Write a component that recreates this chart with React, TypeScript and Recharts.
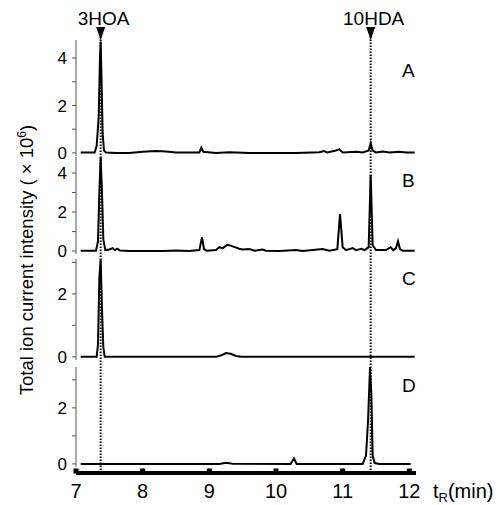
import React from 'react';
import { LineChart, Line, XAxis, YAxis, ReferenceLine } from 'recharts';

// ---------- data ----------
const X_MIN = 7;
const X_MAX = 12.1;
const xTicks = [7, 8, 9, 10, 11, 12];

const markerNames = ['3HOA', '10HDA'];
const markerTimes = [7.37, 11.42];

const panelLabels = ['A', 'B', 'C', 'D'];

const timeA = [7.07, 7.28, 7.31, 7.34, 7.36, 7.37, 7.38, 7.4, 7.42, 7.45, 7.6, 7.8, 8.0, 8.2, 8.35, 8.5, 8.85, 8.88, 8.91, 9.1, 9.3, 9.6, 10.0, 10.3, 10.65, 10.72, 10.77, 10.9, 10.95, 11.0, 11.2, 11.3, 11.39, 11.42, 11.45, 11.5, 11.6, 11.7, 11.85, 11.95, 12.08];
const valuesA = [0.02, 0.02, 0.3, 1.5, 4.0, 4.7, 3.5, 0.8, 0.1, 0.02, 0.0, 0.0, 0.05, 0.08, 0.06, 0.02, 0.02, 0.22, 0.05, 0.0, 0.03, 0.0, 0.0, 0.0, 0.03, 0.08, 0.02, 0.1, 0.15, 0.02, 0.05, 0.02, 0.1, 0.4, 0.1, 0.02, 0.06, 0.02, 0.05, 0.02, 0.02];

const timeB = [7.07, 7.3, 7.33, 7.35, 7.37, 7.39, 7.41, 7.44, 7.5, 7.55, 7.58, 7.62, 7.66, 7.8, 8.0, 8.3, 8.5, 8.7, 8.85, 8.89, 8.92, 8.96, 9.1, 9.15, 9.2, 9.27, 9.32, 9.38, 9.45, 9.5, 9.6, 9.68, 9.8, 9.85, 10.05, 10.3, 10.4, 10.7, 10.8, 10.92, 10.96, 11.0, 11.05, 11.15, 11.2, 11.28, 11.33, 11.39, 11.42, 11.45, 11.5, 11.65, 11.72, 11.76, 11.8, 11.83, 11.86, 11.9, 12.08];
const valuesB = [0.02, 0.02, 0.5, 3.0, 4.8, 3.0, 0.6, 0.05, 0.08, 0.15, 0.05, 0.12, 0.03, 0.0, 0.0, 0.0, 0.03, 0.0, 0.05, 0.7, 0.1, 0.02, 0.05, 0.2, 0.15, 0.32, 0.28, 0.2, 0.12, 0.08, 0.1, 0.02, 0.08, 0.02, 0.0, 0.05, 0.0, 0.1, 0.02, 0.1, 1.9, 0.2, 0.05, 0.15, 0.05, 0.12, 0.05, 0.2, 3.9, 0.3, 0.05, 0.05, 0.2, 0.05, 0.15, 0.5, 0.1, 0.02, 0.02];

const timeC = [7.07, 7.31, 7.33, 7.35, 7.37, 7.39, 7.41, 7.43, 9.1, 9.18, 9.25, 9.32, 9.4, 9.48, 12.08];
const valuesC = [0, 0, 0.4, 2.5, 3.1, 1.5, 0.3, 0, 0, 0.05, 0.12, 0.1, 0.03, 0, 0];

const timeD = [7.07, 9.15, 9.25, 9.35, 10.22, 10.27, 10.31, 11.3, 11.35, 11.38, 11.41, 11.43, 11.45, 11.48, 11.55, 12.02];
const valuesD = [0, 0, 0.04, 0.01, 0, 0.2, 0, 0, 0.3, 1.5, 3.45, 2.5, 0.3, 0.03, 0, 0];

const yTicksA = [0, 1, 2, 3, 4];
const yTicksB = [0, 1, 2, 3, 4];
const yTicksC = [0, 1, 2, 3];
const yTicksD = [0, 1, 2, 3];

// ---------- helpers ----------
const zip = (t: number[], v: number[]) => {
  const n = Math.min(t.length, v.length);
  const out: { t: number; v: number }[] = [];
  for (let i = 0; i < n; i++) out.push({ t: t[i], v: v[i] });
  return out;
};

const FONT = '"Liberation Sans", Arial, Helvetica, sans-serif';
const PLOT_LEFT = 76;
const PLOT_RIGHT_MARGIN = 83;
const W = 499;
const PAD = 12;

const panels = [
  { label: panelLabels[0], data: zip(timeA, valuesA), ticks: yTicksA, domain: [-0.13, 4.76], top: 40, h: 116, labelY: 77 },
  { label: panelLabels[1], data: zip(timeB, valuesB), ticks: yTicksB, domain: [-0.15, 4.82], top: 157, h: 97, labelY: 187 },
  { label: panelLabels[2], data: zip(timeC, valuesC), ticks: yTicksC, domain: [-0.1, 3.11], top: 259, h: 101, labelY: 285 },
  { label: panelLabels[3], data: zip(timeD, valuesD), ticks: yTicksD, domain: [-0.11, 3.46], top: 367, h: 100, labelY: 392 },
];

const markers = markerNames.map((name, i) => ({ name, t: markerTimes[i], lo: 0 }));

const fmtY = (v: number) => (v % 2 === 0 ? String(v) : '');

const XTick = (props: any) => {
  const { x, y, payload } = props;
  return (
    <g>
      <rect x={x - 2.5} y={y - 4.5} width={5} height={5} fill="#000" />
      <text x={x} y={y + 25} textAnchor="middle" fontSize={20} fill="#000" fontFamily={FONT}>
        {payload.value}
      </text>
    </g>
  );
};

const MarkerLabel = (props: any) => {
  const vb = props.viewBox || {};
  const x = vb.x;
  const y = vb.y;
  if (x == null || y == null) return null;
  return (
    <g>
      <polygon points={`${x - 4.5},${y} ${x + 4.5},${y} ${x},${y + 13}`} fill="#000" />
      <text x={x + 3} y={y - 2} textAnchor="middle" fontSize={19} fill="#000" fontFamily={FONT}>
        {props.name}
      </text>
    </g>
  );
};

export default function App() {
  return (
    <div style={{ position: 'absolute', left: 0, top: 0, width: W, height: 505, background: '#fff', fontFamily: FONT }}>
      {panels.map((p) => (
        <div key={p.label} style={{ position: 'absolute', left: 0, top: p.top - PAD, width: W, height: p.h + 2 * PAD }}>
          <LineChart
            width={W}
            height={p.h + 2 * PAD}
            data={p.data}
            margin={{ top: PAD, bottom: PAD, left: PLOT_LEFT - 40, right: PLOT_RIGHT_MARGIN }}
          >
            <XAxis dataKey="t" type="number" domain={[X_MIN, X_MAX]} allowDataOverflow hide height={0} />
            <YAxis
              type="number"
              domain={p.domain}
              allowDataOverflow
              ticks={p.ticks}
              tickFormatter={fmtY}
              width={40}
              tickSize={4}
              tickMargin={5}
              axisLine={{ stroke: '#555', strokeWidth: 1 }}
              tickLine={{ stroke: '#555', strokeWidth: 1 }}
              tick={{ fill: '#000', fontSize: 17, fontFamily: FONT }}
              interval={0}
            />
            <Line
              type="linear"
              dataKey="v"
              stroke="#000"
              strokeWidth={2}
              dot={false}
              isAnimationActive={false}
            />
          </LineChart>
        </div>
      ))}

      {/* overlay: retention-time markers and x axis */}
      <div style={{ position: 'absolute', left: 0, top: 0, width: W, height: 505 }}>
        <LineChart
          width={W}
          height={505}
          data={markers}
          margin={{ top: 27, bottom: 0, left: PLOT_LEFT, right: PLOT_RIGHT_MARGIN }}
        >
          <XAxis
            dataKey="t"
            type="number"
            domain={[X_MIN, X_MAX]}
            allowDataOverflow
            ticks={xTicks}
            interval={0}
            height={32}
            tickSize={0}
            tickMargin={0}
            tickLine={false}
            axisLine={{ stroke: '#000', strokeWidth: 4 }}
            tick={<XTick />}
          />
          <YAxis hide width={0} domain={[0, 1]} type="number" allowDataOverflow />
          <Line dataKey="lo" stroke="none" dot={false} isAnimationActive={false} />
          {markers.map((m) => (
            <ReferenceLine
              key={m.name}
              x={m.t}
              ifOverflow="visible"
              stroke="#000"
              strokeWidth={2}
              strokeDasharray="1.5 1.5"
              label={<MarkerLabel name={m.name} />}
            />
          ))}
        </LineChart>
      </div>

      {/* text annotations */}
      <svg width={W} height={505} style={{ position: 'absolute', left: 0, top: 0, pointerEvents: 'none' }}>
        {panels.map((p) => (
          <text key={p.label} x={402} y={p.labelY} fontSize={19} fill="#000" fontFamily={FONT}>
            {p.label}
          </text>
        ))}
        <text
          x={33}
          y={260}
          transform="rotate(-90, 33, 260)"
          textAnchor="middle"
          fontSize={18.5}
          fill="#000"
          fontFamily={FONT}
        >
          Total ion current intensity ( × 10
          <tspan dy={-7} fontSize={12}>6</tspan>
          <tspan dy={7}>)</tspan>
        </text>
        <text x={433} y={498} fontSize={20} fill="#000" fontFamily={FONT}>
          t
          <tspan dy={4} fontSize={13}>R</tspan>
          <tspan dy={-4}>(min)</tspan>
        </text>
      </svg>
    </div>
  );
}
